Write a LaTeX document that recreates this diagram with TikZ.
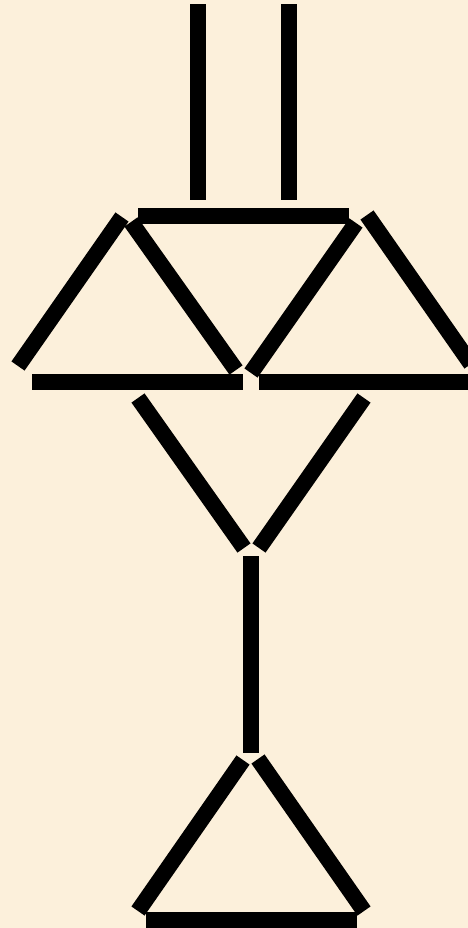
\documentclass[tikz,border=0pt]{standalone}
\definecolor{bgcream}{RGB}{252,240,219}
\tikzset{stick/.style={line width=16bp, line cap=butt, black}}
\begin{document}
\begin{tikzpicture}[x=1bp,y=-1bp]
\fill[bgcream] (0,0) rectangle (468,928);
\useasboundingbox (0,0) rectangle (468,928);
% top vertical sticks
\draw[stick] (198,4) -- (198,200);
\draw[stick] (289,4) -- (289,200);
% top horizontal bar
\draw[stick] (138,216) -- (349,216);
% left triangle
\draw[stick] (18,366) -- (122,217);
\draw[stick] (131,222) -- (236,370);
\draw[stick] (32,382) -- (243,382);
% right triangle
\draw[stick] (251,373) -- (356,223);
\draw[stick] (367,215) -- (471,364);
\draw[stick] (259,382) -- (475,382);
% V
\draw[stick] (138,398) -- (244,548);
\draw[stick] (364,398) -- (259,548);
% stem
\draw[stick] (251,556) -- (251,753);
% bottom triangle
\draw[stick] (243,760) -- (138,911);
\draw[stick] (258,759) -- (364,911);
\draw[stick] (146,920) -- (357,920);
\end{tikzpicture}
\end{document}
